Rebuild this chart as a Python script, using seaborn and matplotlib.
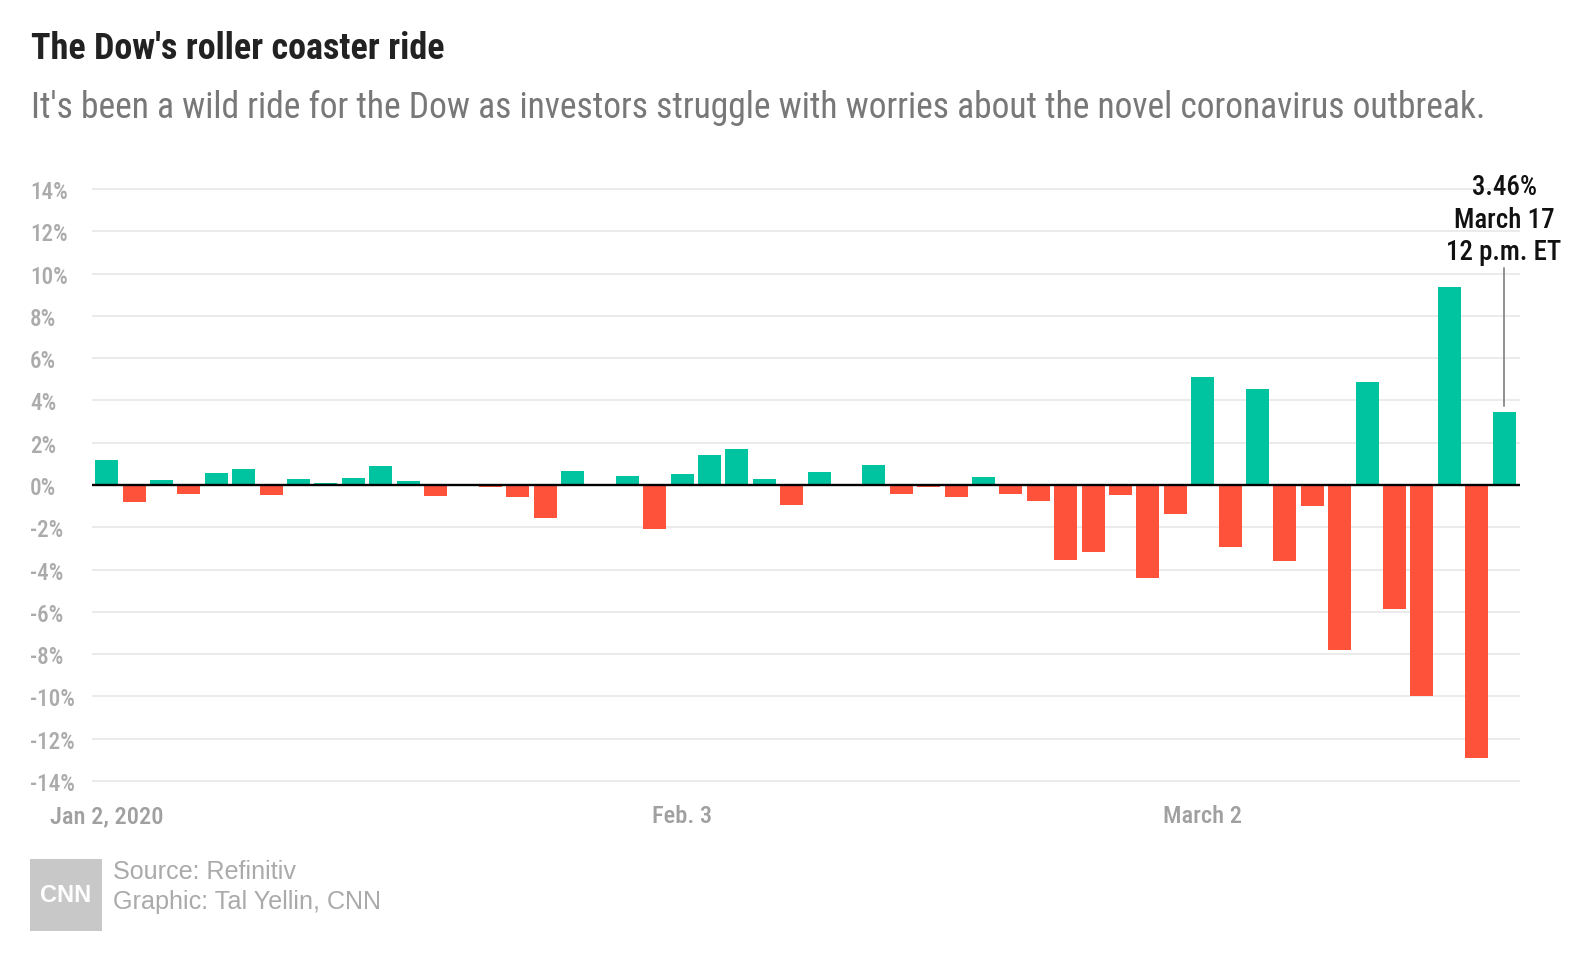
import os
import numpy as np
import pandas as pd
import matplotlib
matplotlib.use("Agg")
import matplotlib.pyplot as plt
import seaborn as sns
from matplotlib import font_manager as fm
from matplotlib.font_manager import FontProperties
from matplotlib.transforms import blended_transform_factory
from matplotlib.patches import Rectangle
from matplotlib.lines import Line2D

# ---------------- data ----------------
dates = [
    "2020-01-02", "2020-01-03", "2020-01-06", "2020-01-07", "2020-01-08", "2020-01-09",
    "2020-01-10", "2020-01-13", "2020-01-14", "2020-01-15", "2020-01-16", "2020-01-17",
    "2020-01-21", "2020-01-22", "2020-01-23", "2020-01-24", "2020-01-27", "2020-01-28",
    "2020-01-29", "2020-01-30", "2020-01-31",
    "2020-02-03", "2020-02-04", "2020-02-05", "2020-02-06", "2020-02-07", "2020-02-10",
    "2020-02-11", "2020-02-12", "2020-02-13", "2020-02-14", "2020-02-18", "2020-02-19",
    "2020-02-20", "2020-02-21", "2020-02-24", "2020-02-25", "2020-02-26", "2020-02-27",
    "2020-02-28",
    "2020-03-02", "2020-03-03", "2020-03-04", "2020-03-05", "2020-03-06", "2020-03-09",
    "2020-03-10", "2020-03-11", "2020-03-12", "2020-03-13", "2020-03-16", "2020-03-17",
]
pct_change = [
    1.16, -0.81, 0.24, -0.42, 0.56, 0.74,
    -0.46, 0.29, 0.11, 0.31, 0.92, 0.17,
    -0.52, -0.03, -0.09, -0.58, -1.57, 0.66,
    0.04, 0.43, -2.09,
    0.51, 1.44, 1.68, 0.30, -0.94, 0.60,
    0.01, 0.94, -0.43, -0.09, -0.56, 0.40,
    -0.44, -0.78, -3.56, -3.15, -0.46, -4.42,
    -1.39,
    5.09, -2.94, 4.53, -3.58, -0.98, -7.79,
    4.89, -5.86, -9.99, 9.36, -12.93, 3.46,
]
x_tick_dates = ["2020-01-02", "2020-02-03", "2020-03-02"]
x_tick_labels = ["Jan 2, 2020", "Feb. 3", "March 2"]
y_ticks = [-14, -12, -10, -8, -6, -4, -2, 0, 2, 4, 6, 8, 10, 12, 14]
y_tick_labels = ["-14%", "-12%", "-10%", "-8%", "-6%", "-4%", "-2%", "0%",
                 "2%", "4%", "6%", "8%", "10%", "12%", "14%"]
annot_lines = ["March 17", "12 p.m. ET"]

title = "The Dow's roller coaster ride"
subtitle = ("It's been a wild ride for the Dow as investors struggle with worries "
            "about the novel coronavirus outbreak.")
source_lines = ["Source: Refinitiv", "Graphic: Tal Yellin, CNN"]

GREEN = "#00C4A0"
RED = "#FF523B"

# ---------------- fonts ----------------
sns.set_theme(style="white")
plt.rcParams["font.family"] = ["DejaVu Sans"]

_files = {}
for f in fm.fontManager.ttflist:
    b = os.path.splitext(os.path.basename(f.fname))[0].lower()
    _files.setdefault(b, f.fname)

def pick(cands, fallback_family, weight="normal"):
    for c in cands:
        if c in _files:
            return FontProperties(fname=_files[c])
    return FontProperties(family=fallback_family, weight=weight)

fp_bold = pick(["robotocondensed-bold", "notosans-condensedbold",
                "notosans-condensedsemibold", "opensans_condensed-bold",
                "opensanscondensed-bold", "dejavusanscondensed-bold"],
               "DejaVu Sans", "bold")
fp_med = pick(["robotocondensed-medium", "notosans-condensedmedium",
               "robotocondensed-regular", "notosans-condensed",
               "dejavusanscondensed"], "DejaVu Sans")
fp_semi = pick(["robotocondensed-medium", "notosans-condensedsemibold",
                "notosans-condensedmedium", "robotocondensed-bold",
                "dejavusanscondensed-bold"], "DejaVu Sans", "bold")
fp_reg = pick(["robotocondensed-regular", "notosans-condensed",
               "dejavusanscondensed"], "DejaVu Sans")
plain_family = ["Liberation Sans", "DejaVu Sans"]

def fp_sized(fp, size):
    p = fp.copy()
    p.set_size(size)
    return p

W, H = 1596, 962
fig = plt.figure(figsize=(W / 100, H / 100), dpi=100)
fig.patch.set_facecolor("white")

def fy(y):
    return 1 - y / H

# axes: y=14 at px 190, y=-14 at px 782
ypad = 0.3
ppu = (782 - 190) / 28.0
ax_top = 190 - ypad * ppu
ax_bot = 782 + ypad * ppu
ax = fig.add_axes([92 / W, fy(ax_bot), (1520 - 92) / W, (ax_bot - ax_top) / H])
ax.set_facecolor("white")

df = pd.DataFrame({"idx": np.arange(len(dates)), "pct": pct_change, "date": dates})
df["dir"] = np.where(df["pct"] >= 0, "up", "down")

sns.barplot(data=df, x="idx", y="pct", hue="dir",
            palette={"up": GREEN, "down": RED}, dodge=False, width=0.84,
            saturation=1, legend=False, linewidth=0, ax=ax, zorder=2)

n = len(dates)
ax.set_xlim(-0.54, n - 1 + 0.58)
ax.set_ylim(-14 - ypad, 14 + ypad)
ax.set_yticks(y_ticks, y_tick_labels)
tick_pos = [dates.index(d) for d in x_tick_dates]
ax.set_xticks(tick_pos, x_tick_labels)
ax.set_xlabel("")
ax.set_ylabel("")
for s in ax.spines.values():
    s.set_visible(False)
ax.yaxis.grid(True, color="#ebebeb", linewidth=1.4, zorder=0)
ax.xaxis.grid(False)
ax.set_axisbelow(True)
ax.axhline(0, color="black", linewidth=1.7, zorder=3)
ax.tick_params(axis="y", length=0, pad=62 * 0.72, labelcolor="#ababab")
ax.tick_params(axis="x", length=0, pad=12, labelcolor="#a0a0a0")
for lab in ax.get_yticklabels():
    lab.set_fontproperties(fp_sized(fp_med, 18))
    lab.set_horizontalalignment("left")
for lab in ax.get_xticklabels():
    lab.set_fontproperties(fp_sized(fp_semi, 18))

# annotation for the last bar
last_i = n - 1
last_v = pct_change[-1]
tr = blended_transform_factory(ax.transData, fig.transFigure)
ann_texts = [f"{last_v:.2f}%"] + annot_lines
ann_objs = []
for txt, base in zip(ann_texts, [195, 228, 260]):
    ann_objs.append(ax.text(last_i, fy(base), txt, transform=tr, ha="center",
                            va="baseline", fontproperties=fp_sized(fp_med, 21),
                            color="#111111", clip_on=False))
ax.add_line(Line2D([last_i, last_i], [fy(407), fy(269)], transform=tr,
                   color="#888888", linewidth=1.3, clip_on=False))

# titles
t1 = fig.text(31 / W, fy(59), title, ha="left", va="baseline",
              fontproperties=fp_sized(fp_bold, 28), color="#222222")
t2 = fig.text(31 / W, fy(118), subtitle, ha="left", va="baseline",
              fontproperties=fp_sized(fp_reg, 25), color="#787878")

# footer
fig.patches.append(Rectangle((30 / W, fy(932)), 72 / W, 72 / H,
                             transform=fig.transFigure, facecolor="#c8c8c8",
                             edgecolor="none"))
fig.text(66 / W, fy(896), "CNN", ha="center", va="center", fontsize=17,
         fontweight="bold", color="white", family=plain_family)
f1 = fig.text(113 / W, fy(879), source_lines[0], ha="left", va="baseline",
              fontsize=17, color="#aaaaaa", family=plain_family)
f2 = fig.text(113 / W, fy(909), source_lines[1], ha="left", va="baseline",
              fontsize=17, color="#aaaaaa", family=plain_family)

# fit widths to the reference layout (sizes only)
fig.canvas.draw()
r = fig.canvas.get_renderer()

def fit(t, target, max_size):
    w = t.get_window_extent(r).width
    size = min(t.get_fontsize() * target / w, max_size)
    return size

t1.set_fontsize(fit(t1, 414, 30))
t2.set_fontsize(fit(t2, 1459, 27))
f2.set_fontsize(fit(f2, 268, 22))
f1.set_fontsize(f2.get_fontsize())
s_ann = fit(ann_objs[2], 115, 22)
for t in ann_objs:
    t.set_fontsize(s_ann)
ylab14 = ax.get_yticklabels()[-1]
s_y = fit(ylab14, 38, 19)
for lab in ax.get_yticklabels():
    lab.set_fontsize(s_y)
xlab0 = ax.get_xticklabels()[0]
s_x = fit(xlab0, 113, 19)
for lab in ax.get_xticklabels():
    lab.set_fontsize(s_x)

fig.savefig("out.png", dpi=100, facecolor="white")
